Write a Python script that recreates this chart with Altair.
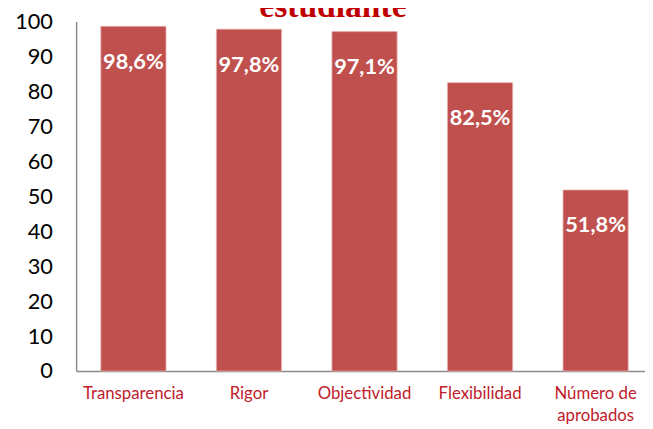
import altair as alt
import pandas as pd

categories = ["Transparencia", "Rigor", "Objectividad", "Flexibilidad", "Número de aprobados"]
values = [98.6, 97.8, 97.1, 82.5, 51.8]
labels = ["98,6%", "97,8%", "97,1%", "82,5%", "51,8%"]
y_ticks = [0, 10, 20, 30, 40, 50, 60, 70, 80, 90, 100]
title_text = ["estudiante"]

df = pd.DataFrame({"cat": categories, "val": values, "lbl": labels})
tdf = pd.DataFrame({"t": title_text})

x = alt.X(
    "cat:N",
    sort=categories,
    title=None,
    scale=alt.Scale(paddingInner=0.436, paddingOuter=0.1795, align=0.595),
    axis=alt.Axis(
        labelAngle=0,
        labelFont="Lato",
        labelFontSize=17,
        labelColor="#C0202A",
        labelPadding=15,
        labelLineHeight=22,
        labelOverlap=False,
        labelExpr="datum.label == 'Número de aprobados' ? ['Número de', 'aprobados'] : datum.label",
        ticks=False,
        domainColor="#8C8C8C",
        domainWidth=1.5,
        grid=False,
    ),
)
y = alt.Y(
    "val:Q",
    title=None,
    scale=alt.Scale(domain=[0, 100], nice=False),
    axis=alt.Axis(
        values=y_ticks,
        tickCount=11,
        labelFont="Lato",
        labelFontSize=22,
        labelColor="#000000",
        labelPadding=24,
        labelOverlap=False,
        labelFlush=False,
        ticks=False,
        domainColor="#8C8C8C",
        domainWidth=1.5,
        grid=False,
    ),
)

bars = alt.Chart(df).mark_bar(color="#C0504D", stroke="#E6B0AE", strokeWidth=0.8).encode(x=x, y=y)

text = alt.Chart(df).mark_text(
    font="Lato", fontSize=22, fontWeight="bold", color="white", dy=36, baseline="middle"
).encode(x=x, y=y, text="lbl:N")

title = alt.Chart(tdf).mark_text(
    font="Liberation Serif", fontSize=34, fontWeight="bold", color="#C00000",
    baseline="alphabetic", align="center"
).encode(x=alt.value(260), y=alt.value(-5), text="t:N")

chart = alt.layer(bars, text, title).properties(
    width=576,
    height=354,
    autosize=alt.AutoSizeParams(type="none"),
    padding={"left": 69, "top": 11, "right": 0, "bottom": 55},
).configure_view(strokeWidth=0).configure_axis(labelOverlap=False)

chart.save("out.html", embed_options={"renderer": "svg", "actions": False})
